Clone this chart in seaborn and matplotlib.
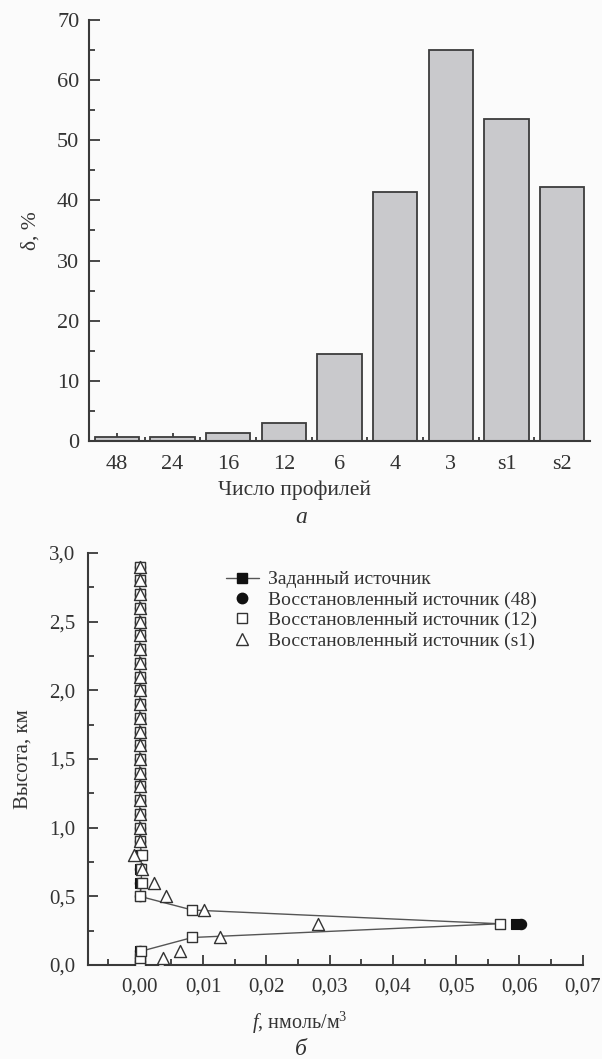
import matplotlib
matplotlib.use("Agg")
import matplotlib.pyplot as plt
import seaborn as sns
import pandas as pd
import numpy as np
from matplotlib.ticker import MultipleLocator, FuncFormatter, FixedLocator
from matplotlib.lines import Line2D

# ---------------- data ----------------
profiles = ["48", "24", "16", "12", "6", "4", "3", "s1", "s2"]
delta_pct = [0.6, 0.6, 1.3, 3.0, 14.5, 41.4, 65.0, 53.6, 42.2]

heights = [0.0, 0.05, 0.1, 0.2, 0.3, 0.4, 0.5, 0.6, 0.7, 0.8, 0.9, 1.0, 1.1, 1.2,
           1.3, 1.4, 1.5, 1.6, 1.7, 1.8, 1.9, 2.0, 2.1, 2.2, 2.3, 2.4, 2.5, 2.6,
           2.7, 2.8, 2.9]
nan = float("nan")
f_set = [0.0, 0.0, 0.0, nan, 0.0595, nan, 0.0, 0.0, 0.0, 0.0, 0.0, 0.0, 0.0, 0.0,
         0.0, 0.0, 0.0, 0.0, 0.0, 0.0, 0.0, 0.0, 0.0, 0.0, 0.0, 0.0, 0.0, 0.0,
         0.0, 0.0, 0.0]
f_48 = [0.0, 0.0, 0.0, nan, 0.0603, nan, 0.0, 0.0, 0.0, 0.0, 0.0, 0.0, 0.0, 0.0,
        0.0, 0.0, 0.0, 0.0, 0.0, 0.0, 0.0, 0.0, 0.0, 0.0, 0.0, 0.0, 0.0, 0.0,
        0.0, 0.0, 0.0]
f_12 = [0.0, 0.0, 0.0002, 0.0083, 0.0569, 0.0083, 0.0, 0.0003, 0.0002, 0.0003,
        0.0, 0.0, 0.0, 0.0, 0.0, 0.0, 0.0, 0.0, 0.0, 0.0, 0.0, 0.0, 0.0, 0.0,
        0.0, 0.0, 0.0, 0.0, 0.0, 0.0, 0.0]
f_s1 = [0.0033, 0.0036, 0.0064, 0.0127, 0.0282, 0.0102, 0.0042, 0.0022, 0.0003,
        -0.0009, 0.0, 0.0, 0.0, 0.0, 0.0, 0.0, 0.0, 0.0, 0.0, 0.0, 0.0, 0.0, 0.0,
        0.0, 0.0, 0.0, 0.0, 0.0, 0.0, 0.0, 0.0]

labels = ["Заданный источник", "Восстановленный источник (48)",
          "Восстановленный источник (12)", "Восстановленный источник (s1)"]

# ---------------- style ----------------
sns.set_theme(style="ticks")
plt.rcParams["font.family"] = ["Liberation Serif", "DejaVu Serif"]
plt.rcParams["mathtext.fontset"] = "custom"
plt.rcParams["mathtext.rm"] = "Liberation Serif"
plt.rcParams["mathtext.it"] = "Liberation Serif:italic"

BG = "#fbfbfb"
INK = "#3a3a3a"
TXT = "#333333"

fig = plt.figure(figsize=(6.02, 10.59), dpi=100, facecolor=BG)

def comma(dec):
    return FuncFormatter(lambda v, p: (f"{v:.{dec}f}").replace(".", ","))

def style_spines(ax):
    for s in ["top", "right"]:
        ax.spines[s].set_visible(False)
    for s in ["left", "bottom"]:
        ax.spines[s].set_color(INK)
        ax.spines[s].set_linewidth(1.5)
    ax.set_facecolor(BG)
    ax.tick_params(which="both", direction="in", color=INK, labelcolor=TXT, width=1.3)

# ---------------- top: bar chart ----------------
ax1 = fig.add_axes([0.148, 0.5836, 0.832, 0.3975])
df1 = pd.DataFrame({"profiles": profiles, "delta": delta_pct})
sns.barplot(data=df1, x="profiles", y="delta", order=profiles, color="#c9c9cc",
            saturation=1, width=0.8, edgecolor="#3c3c3c", linewidth=1.3, ax=ax1)
ax1.set_xlim(-0.5, len(profiles) - 0.5)
ax1.set_ylim(0, 70)
ax1.yaxis.set_major_locator(MultipleLocator(10))
ax1.yaxis.set_minor_locator(MultipleLocator(5))
ax1.xaxis.set_minor_locator(FixedLocator(np.arange(0.5, len(profiles) - 0.5, 1.0)))
style_spines(ax1)
ax1.tick_params(axis="y", which="major", length=8, labelsize=16, pad=7)
ax1.tick_params(axis="y", which="minor", length=4)
ax1.tick_params(axis="x", which="major", length=6, labelsize=16, pad=10)
ax1.tick_params(axis="x", which="minor", length=3)
ax1.set_xlabel("Число профилей", fontsize=15.5, color=TXT)
ax1.xaxis.set_label_coords(0.41, -0.095)
ax1.set_ylabel("δ, %", fontsize=15.5, color=TXT, labelpad=12)
fig.text(0.5, 0.511, "а", ha="center", va="center", fontsize=17,
         style="italic", color=TXT)

# ---------------- bottom: profiles ----------------
ax2 = fig.add_axes([0.146, 0.0888, 0.822, 0.389])
line_c = "#555555"
mk_edge = "#333333"

sns.lineplot(x=f_12, y=heights, orient="y", sort=False, estimator=None,
             color=line_c, linewidth=1.0, ax=ax2, legend=False)
sns.scatterplot(x=f_set, y=heights, marker="s", s=45, color="#111111",
                edgecolor="#111111", linewidth=0.8, ax=ax2, zorder=3)
sns.scatterplot(x=f_48, y=heights, marker="o", s=55, color="#111111",
                edgecolor="#111111", linewidth=0.8, ax=ax2, zorder=3)
sns.scatterplot(x=f_12, y=heights, marker="s", s=45, color="white",
                edgecolor=mk_edge, linewidth=1.0, ax=ax2, zorder=4)
sns.scatterplot(x=f_s1, y=heights, marker="^", s=75, color="white",
                edgecolor=mk_edge, linewidth=1.0, ax=ax2, zorder=5)

ax2.set_xlim(-0.0082, 0.07)
ax2.set_ylim(0, 3.0)
ax2.xaxis.set_major_locator(MultipleLocator(0.01))
ax2.xaxis.set_minor_locator(MultipleLocator(0.005))
ax2.yaxis.set_major_locator(MultipleLocator(0.5))
ax2.yaxis.set_minor_locator(MultipleLocator(0.25))
ax2.xaxis.set_major_formatter(comma(2))
ax2.yaxis.set_major_formatter(comma(1))
style_spines(ax2)
ax2.tick_params(axis="both", which="major", length=7, labelsize=15, pad=9)
ax2.tick_params(axis="both", which="minor", length=4)
ax2.set_xlabel(r"$\mathit{f}$, нмоль/м$^3$", fontsize=14.5, color=TXT)
ax2.xaxis.set_label_coords(0.428, -0.108)
ax2.set_ylabel("Высота, км", fontsize=15, color=TXT, labelpad=12)
fig.text(0.5, 0.009, "б", ha="center", va="center", fontsize=17,
         style="italic", color=TXT)

handles = [
    Line2D([], [], color=line_c, lw=1.0, marker="s", ms=6.5, mfc="#111111", mec="#111111"),
    Line2D([], [], ls="none", marker="o", ms=7.5, mfc="#111111", mec="#111111"),
    Line2D([], [], ls="none", marker="s", ms=6.5, mfc="white", mec=mk_edge),
    Line2D([], [], ls="none", marker="^", ms=8.5, mfc="white", mec=mk_edge),
]
leg = ax2.legend(handles, labels, loc="upper left", bbox_to_anchor=(0.375, 0.461),
                 bbox_transform=fig.transFigure, frameon=False, fontsize=14,
                 handlelength=1.7, handletextpad=0.45, labelspacing=0.14,
                 borderaxespad=0, borderpad=0)
for t in leg.get_texts():
    t.set_color(TXT)

fig.savefig("out.png", dpi=100, facecolor=BG)
